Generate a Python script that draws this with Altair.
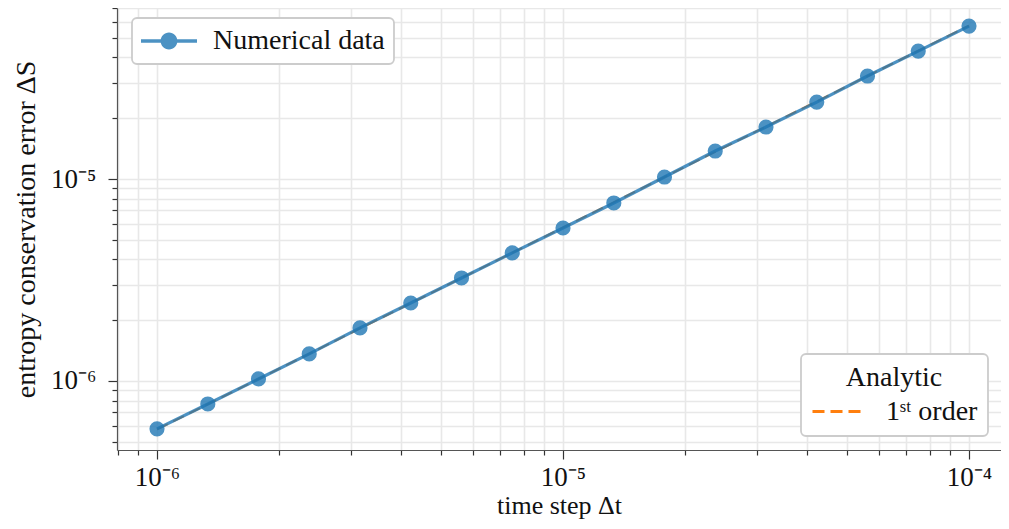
import altair as alt
import pandas as pd

# Data
dt = [1.0e-6, 1.334e-6, 1.778e-6, 2.371e-6, 3.162e-6, 4.217e-6, 5.623e-6, 7.499e-6,
      1.0e-5, 1.334e-5, 1.778e-5, 2.371e-5, 3.162e-5, 4.217e-5, 5.623e-5, 7.499e-5, 1.0e-4]
err = [5.79e-7, 7.69e-7, 1.023e-6, 1.361e-6, 1.830e-6, 2.432e-6, 3.236e-6, 4.305e-6,
       5.72e-6, 7.61e-6, 1.023e-5, 1.376e-5, 1.809e-5, 2.405e-5, 3.236e-5, 4.30e-5, 5.72e-5]
analytic_dt = [1.0e-6, 1.0e-4]
analytic_err = [5.75e-7, 5.75e-5]

x_ticks = [8e-7, 9e-7] + [m * 1e-6 for m in range(1, 10)] + [m * 1e-5 for m in range(1, 10)] + [1e-4]
y_ticks = [m * 1e-7 for m in range(5, 10)] + [m * 1e-6 for m in range(1, 10)] + [m * 1e-5 for m in range(1, 8)]

num_df = pd.DataFrame({"dt": dt, "err": err, "series": "Numerical data"})
ana_df = pd.DataFrame({"dt": analytic_dt, "err": analytic_err, "kind": "1ˢᵗ order"})

FONT = "Liberation Serif"
BLUE = "#1f77b4"
ORANGE = "#ff7f0e"
GRID = "#e8e8e8"
TXT = "#111111"

is_major = "abs(log(datum.value)/LN10 - round(log(datum.value)/LN10)) < 0.0001"
lab = ("(" + is_major + ") ? (round(log(datum.value)/LN10) == -6 ? '10⁻⁶' : "
       "round(log(datum.value)/LN10) == -5 ? '10⁻⁵' : "
       "round(log(datum.value)/LN10) == -4 ? '10⁻⁴' : '') : ''")

xscale = alt.Scale(type="log", domain=[7.97e-7, 1.199e-4], nice=False, zero=False)
yscale = alt.Scale(type="log", domain=[4.55e-7, 7.03e-5], nice=False, zero=False)

common_axis = dict(grid=True, gridColor=GRID, gridWidth=1.6, tickColor="#333333", domainColor="#555555",
                   tickWidth=1.2,
                   tickSize={"condition": {"test": is_major, "value": 9}, "value": 5},
                   labelFont=FONT, labelFontSize=27, labelColor=TXT,
                   titleFont=FONT, titleFontWeight="normal", titleColor=TXT,
                   labelFlush=False, labelOverlap=False)

xaxis = alt.Axis(values=x_ticks, labelExpr=lab, title="time step Δt", labelPadding=5,
                 titleFontSize=26, titlePadding=2, **common_axis)
yaxis = alt.Axis(values=y_ticks, labelExpr=lab, title="entropy conservation error ΔS", labelPadding=12,
                 titleFontSize=28, titlePadding=10, **common_axis)

# legend glyph: line with a dot, left end at the cell's left edge
sym_num = ("M -1 -0.12 L 3 -0.12 L 3 0.12 L -1 0.12 Z "
           "M 1.6 0 A 0.6 0.6 0 1 1 0.4 0 A 0.6 0.6 0 1 1 1.6 0 Z")
sym_dash = "M -1 0 L 3.08 0"

analytic = alt.Chart(ana_df).mark_line(strokeWidth=2, color=ORANGE).encode(
    x=alt.X("dt:Q", scale=xscale, axis=xaxis),
    y=alt.Y("err:Q", scale=yscale, axis=yaxis),
    strokeDash=alt.StrokeDash("kind:N", scale=alt.Scale(domain=["1ˢᵗ order"], range=[[12, 6]]),
                              legend=alt.Legend(title="Analytic", orient="none", legendX=684, legendY=346,
                                                symbolType=sym_dash, symbolStrokeColor=ORANGE,
                                                symbolStrokeWidth=3, symbolSize=676,
                                                labelFont=FONT, labelFontSize=28, labelColor=TXT,
                                                labelOffset=46, labelLimit=300,
                                                titleFont=FONT, titleFontSize=28, titleFontWeight="normal",
                                                titleColor=TXT, titleAnchor="middle", titleAlign="center",
                                                titlePadding=5,
                                                strokeColor="#cccccc", fillColor="white",
                                                cornerRadius=5, padding=10)),
)

legend_num = alt.Legend(title=None, orient="none", legendX=15, legendY=10,
                        symbolType=sym_num, symbolSize=784,
                        symbolFillColor=BLUE, symbolStrokeWidth=0, symbolOpacity=0.8,
                        labelFont=FONT, labelFontSize=28, labelColor=TXT, labelLimit=400,
                        strokeColor="#cccccc", fillColor="white", cornerRadius=5,
                        padding=9, labelOffset=44)

color = alt.Color("series:N", scale=alt.Scale(domain=["Numerical data"], range=[BLUE]), legend=legend_num)

line = alt.Chart(num_df).mark_line(strokeWidth=3.2, opacity=0.8).encode(
    x=alt.X("dt:Q", scale=xscale, axis=xaxis),
    y=alt.Y("err:Q", scale=yscale, axis=yaxis),
    color=color,
)
pts = alt.Chart(num_df).mark_circle(size=230, opacity=0.8).encode(
    x=alt.X("dt:Q", scale=xscale, axis=xaxis),
    y=alt.Y("err:Q", scale=yscale, axis=yaxis),
    color=color,
)

chart = alt.layer(analytic, line, pts).properties(
    width=884, height=442,
    autosize=alt.AutoSizeParams(type="none"),
    padding={"left": 109, "top": 0, "right": 0, "bottom": 71},
).configure_view(stroke=None).configure_axis(domainWidth=1.2).configure_legend(strokeWidth=1.8)

chart.save("out.html", embed_options={"renderer": "svg", "actions": False})
